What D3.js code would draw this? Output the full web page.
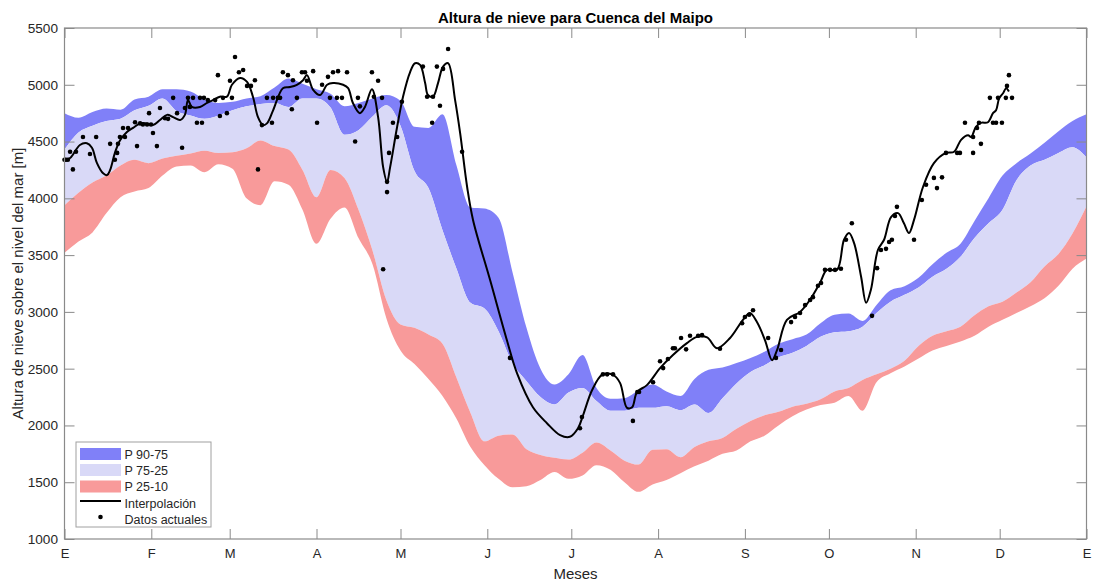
<!DOCTYPE html>
<html>
<head>
<meta charset="utf-8">
<script src="https://cdn.jsdelivr.net/npm/d3@7"></script>
<style>
html,body{margin:0;padding:0;background:#fff;}
svg{display:block;font-family:"Liberation Sans",Arial,Helvetica,sans-serif;}
</style>
</head>
<body>
<svg id="chart" width="1096" height="585"></svg>
<script>
// ---------- DATA ----------
const monthStarts = [0,31,59,90,120,151,181,212,243,273,304,334,365];
const monthLabels = ["E","F","M","A","M","J","J","A","S","O","N","D","E"];
const yTicks = [1000,1500,2000,2500,3000,3500,4000,4500,5000,5500];

const bandDays = [0,5,10,15,20,25,30,35,40,45,50,55,60,65,70,75,80,85,90,95,100,105,110,115,120,125,130,135,140,145,150,155,160,165,170,175,180,185,190,195,200,205,210,215,220,225,230,235,240,245,250,255,260,265,270,275,280,285,290,295,300,305,310,315,320,325,330,335,340,345,350,355,360,365];
const p90 = [4750,4710,4760,4790,4780,4870,4895,4960,4960,4940,4870,4840,4850,4880,4900,4975,5055,5010,4960,4920,4810,4840,4880,4910,4860,4630,4620,4740,4290,3920,3910,3830,3350,2860,2500,2360,2450,2620,2330,2235,2240,2310,2360,2300,2260,2410,2490,2510,2550,2595,2650,2720,2760,2800,2900,2975,2985,2920,3060,3190,3225,3300,3420,3520,3600,3800,4000,4200,4310,4395,4490,4590,4680,4740];
const p75 = [4430,4580,4640,4680,4700,4775,4815,4880,4770,4730,4700,4730,4775,4810,4830,4840,4805,4880,4880,4800,4560,4600,4720,4820,4640,4240,4090,3720,3380,3080,3030,2830,2550,2390,2250,2185,2290,2330,2215,2130,2130,2155,2155,2170,2135,2185,2110,2240,2370,2470,2530,2600,2640,2700,2780,2820,2830,2870,2990,3090,3150,3215,3310,3380,3485,3650,3780,3900,4160,4290,4340,4400,4450,4360];
const p25 = [3940,4050,4140,4200,4290,4340,4310,4350,4375,4395,4420,4400,4405,4440,4510,4460,4430,4250,4010,4250,4180,3900,3540,3100,2890,2860,2800,2720,2420,2110,1860,1910,1920,1790,1740,1715,1700,1760,1850,1780,1690,1655,1785,1790,1720,1810,1860,1890,1970,2040,2090,2120,2165,2190,2230,2300,2330,2400,2450,2500,2570,2700,2790,2830,2870,2970,3050,3090,3170,3260,3400,3510,3690,3930];
const p10 = [3520,3620,3700,3870,4010,4060,4090,4200,4280,4290,4230,4300,4260,4000,3940,4150,4120,3900,3600,3820,3920,3650,3420,2940,2660,2540,2410,2260,2060,1810,1650,1530,1455,1465,1520,1590,1530,1560,1650,1610,1500,1415,1480,1520,1580,1640,1690,1750,1780,1860,1910,2000,2080,2140,2180,2200,2260,2130,2380,2460,2520,2590,2660,2700,2740,2790,2870,2930,2990,3050,3120,3230,3380,3470];

const interpDays = [0,2,5.5,8,9.8,11.6,13.8,15.2,16.3,18,19.8,22.3,24.5,27,29.5,31.6,34.1,36.6,38.8,41.3,43,44.1,45.5,48.4,50.9,53,55.5,58,59.8,62.7,65.2,67.3,69.1,70.9,72.3,74.5,78,80.5,83,85.2,86.6,88.8,91.3,93.8,95.9,99.5,101.3,103,105.5,107.3,109.8,112,113.8,115.2,116.3,118.8,120.9,123.4,125.2,127,128.8,129.8,131.6,133.4,135.2,137,139.5,141.3,143.8,145.9,152,158,161.6,167.3,172.3,177,180.5,183.4,185.2,188.4,192,195.9,198.4,200.9,202.7,204.5,208,212.7,217.3,222.3,225.9,229.5,233,237.7,242.3,244.8,247.3,250.2,252.7,254.5,258,262.7,266.2,269.8,272.3,275.9,278.4,280.2,282,284.5,286.3,288,290.5,292.7,295.2,297.7,299.8,301.6,303.4,306.6,310.5,314.8,317.7,320.2,322.7,323.8,325.5,327.3,329.8,331.6,332.7,333.8,335.2,336.3,337.3];
const interpValues = [4340,4355,4470,4485,4445,4310,4220,4205,4250,4400,4510,4585,4620,4660,4660,4645,4690,4735,4715,4690,4735,4865,4805,4805,4840,4865,4895,4895,5000,5060,5025,4895,4715,4645,4660,4775,4970,4980,5000,5040,5085,4955,4910,5000,5015,5000,4970,4840,4750,4805,4960,4715,4275,4145,4275,4630,4895,5110,5190,5175,5015,4910,4895,5015,5160,5190,4865,4575,4100,3810,3280,2750,2460,2160,2020,1915,1900,1975,2090,2310,2445,2445,2375,2155,2160,2295,2355,2505,2620,2725,2780,2775,2680,2770,2930,2990,2910,2750,2575,2665,2930,3000,3105,3255,3370,3370,3635,3695,3605,3310,3080,3195,3545,3635,3835,3870,3780,3695,3810,4100,4310,4400,4410,4515,4555,4540,4630,4665,4670,4750,4775,4880,4925,4970,4940];

const obsDays = [0,0.5,1.2,2,3,4.1,6.6,9.1,11.3,16.3,18,18.8,19.1,19.8,20.9,21.6,22.7,25.2,25.9,27,28,29.5,30.2,30.9,31.6,33,34.1,35.9,37,38.8,40.2,42,43,44.1,44.8,45.9,47.3,48.4,49.1,49.8,51.2,53.8,54.8,55.5,56.6,58,59.1,59.8,60.9,62.3,63.8,65.2,66.6,68,69.1,70.5,72.3,74.1,74.5,76.2,77,78,79.8,81.2,81.6,83,84.8,85.9,86.6,88.8,90.2,92,94.1,94.8,95.9,97.3,97.7,99.1,100.9,103.8,104.8,105.5,109.8,110.5,112,113.4,115.2,115.9,117.3,118.8,120.5,128,129.5,131.3,131.6,133,134.1,135.2,137,142,113.8,115.2,159.1,184.1,184.8,192.3,193.8,195.9,203,204.6,205.2,210.2,212.7,213.8,215.5,217.3,218,220.2,222,223.4,226.3,227.7,234.1,242,243,244.5,245.9,251.3,254.1,255.9,259.5,260.9,262.7,264.5,266.3,267.3,269.1,270.2,271.6,273.4,275.2,277.3,279.1,281.2,288.4,290.2,291.6,293.4,294.5,295.5,296.6,297.3,303.4,306.2,307.7,310.5,311.6,313.4,314.8,318.8,319.8,321.6,324.5,324.5,325.9,326.6,327.3,330.5,331.6,332.7,333.4,334.8,336.2,336.6,337.3,338.4];
const obsValues = [4340,4340,4340,4410,4255,4410,4540,4390,4540,4480,4340,4400,4480,4540,4620,4540,4620,4670,4460,4660,4650,4650,4750,4650,4575,4460,4795,4705,4700,4885,4750,4445,4795,4885,4805,4885,4665,4885,4665,4885,4865,4865,5085,4725,4885,4750,5035,4885,5245,5110,5130,4990,4990,5040,4255,4645,4885,4665,4885,4885,4885,5110,5085,4785,5040,4885,5110,5110,5035,5120,4665,5000,5070,4885,5110,4885,5120,4885,5110,4500,4885,4810,5110,4895,5035,4885,4055,4400,4665,4540,4850,5160,4895,4665,4895,5160,4815,5140,5315,4410,3375,4145,2595,1975,2075,2450,2450,2450,2040,2295,2295,2380,2565,2505,2585,2680,2680,2770,2670,2790,2790,2795,2675,2900,2955,2975,3015,2770,2595,2665,2910,2955,2990,3060,3105,3130,3230,3255,3370,3370,3370,3380,3635,3780,2965,3385,3545,3555,3615,3635,3845,3925,3635,3985,4120,4180,4090,4185,4400,4400,4400,4665,4540,4400,4620,4665,4480,4885,4665,4665,4885,4665,4885,4990,5085,4885];

const legendItems = ["P 90-75","P 75-25","P 25-10","Interpolación","Datos actuales"];
const colDark = "#8080f8", colLight = "#d9d9f7", colRed = "#f89a9a";

// ---------- CHART ----------
const svg = d3.select("#chart");
const L = 64.5, R = 1086.5, T = 28, B = 539;
const x = d3.scaleLinear().domain([0,365]).range([L,R]);
const y = d3.scaleLinear().domain([1000,5500]).range([B,T]);

const bands = bandDays.map((d,i)=>({d, p90:p90[i], p75:p75[i], p25:p25[i], p10:p10[i]}));
const curve = d3.curveMonotoneX;
const mkArea = (hi,lo)=>d3.area().x(d=>x(d.d)).y0(d=>y(d[lo])).y1(d=>y(d[hi])).curve(curve);

const plot = svg.append("g");
plot.append("path").datum(bands).attr("d", mkArea("p90","p75")).attr("fill", colDark);
plot.append("path").datum(bands).attr("d", mkArea("p75","p25")).attr("fill", colLight);
plot.append("path").datum(bands).attr("d", mkArea("p25","p10")).attr("fill", colRed);

const interp = interpDays.map((d,i)=>({d, v:interpValues[i]}));
plot.append("path").datum(interp)
  .attr("d", d3.line().x(d=>x(d.d)).y(d=>y(d.v)).curve(d3.curveCatmullRom.alpha(0.5)))
  .attr("fill","none").attr("stroke","#000").attr("stroke-width",2);

const obs = obsDays.map((d,i)=>({d, v:obsValues[i]}));
plot.selectAll("circle.obs").data(obs).enter().append("circle")
  .attr("class","obs").attr("cx",d=>x(d.d)).attr("cy",d=>y(d.v)).attr("r",2.3).attr("fill","#000");

// axes
const axCol = "#8a8a8a", txtCol = "#262626";
function styleAxis(g, showText, fs){
  g.select(".domain").remove();
  g.selectAll(".tick line").attr("stroke", axCol).attr("stroke-width",1);
  g.selectAll(".tick text").attr("fill", txtCol).style("font-size",fs)
   .style("font-family",'"Liberation Sans",Arial,sans-serif');
  if(!showText) g.selectAll(".tick text").remove();
}
const xAxisB = d3.axisBottom(x).tickValues(monthStarts).tickFormat((d,i)=>monthLabels[i]).tickSize(-10).tickPadding(10);
svg.append("g").attr("transform",`translate(0,${B})`).call(xAxisB).call(g=>styleAxis(g,true,"13px"));
const xAxisT = d3.axisTop(x).tickValues(monthStarts).tickSize(-10).tickFormat("");
svg.append("g").attr("transform",`translate(0,${T})`).call(xAxisT).call(g=>styleAxis(g,false,"13px"));
const yAxisL = d3.axisLeft(y).tickValues(yTicks).tickFormat(d3.format("d")).tickSize(-10).tickPadding(6.5);
svg.append("g").attr("transform",`translate(${L},0)`).call(yAxisL).call(g=>styleAxis(g,true,"13.6px"));
const yAxisR = d3.axisRight(y).tickValues(yTicks).tickSize(-10).tickFormat("");
svg.append("g").attr("transform",`translate(${R},0)`).call(yAxisR).call(g=>styleAxis(g,false,"13px"));

svg.append("rect").attr("x",L).attr("y",T).attr("width",R-L).attr("height",B-T)
  .attr("fill","none").attr("stroke",axCol).attr("stroke-width",1.2);

// titles
svg.append("text").attr("x",(L+R)/2).attr("y",22.5).attr("text-anchor","middle")
  .style("font-size","15px").style("font-weight","bold").attr("fill","#000")
  .text("Altura de nieve para Cuenca del Maipo");
svg.append("text").attr("x",(L+R)/2).attr("y",579).attr("text-anchor","middle")
  .style("font-size","15px").attr("fill",txtCol).text("Meses");
svg.append("text").attr("transform",`translate(23,${(T+B)/2}) rotate(-90)`).attr("text-anchor","middle")
  .style("font-size","15px").attr("fill",txtCol).text("Altura de nieve sobre el nivel del mar [m]");

// legend
const lg = svg.append("g");
lg.append("rect").attr("x",76).attr("y",442).attr("width",135).attr("height",85)
  .attr("fill","#fff").attr("stroke","#a0a0a0").attr("stroke-width",1);
const rowY = [454,470,486.5,503,519];
const fills = [colDark,colLight,colRed];
legendItems.forEach((t,i)=>{
  const cy = rowY[i];
  if(i<3){
    lg.append("rect").attr("x",80).attr("y",cy-6).attr("width",41).attr("height",12).attr("fill",fills[i]);
  } else if(i===3){
    lg.append("line").attr("x1",80).attr("x2",121).attr("y1",cy-2).attr("y2",cy-2).attr("stroke","#000").attr("stroke-width",2);
  } else {
    lg.append("circle").attr("cx",100.5).attr("cy",cy-2).attr("r",2.3).attr("fill","#000");
  }
  lg.append("text").attr("x",124.5).attr("y",cy+4.5).style("font-size","12.5px").attr("fill",txtCol).text(t);
});
</script>
</body>
</html>
